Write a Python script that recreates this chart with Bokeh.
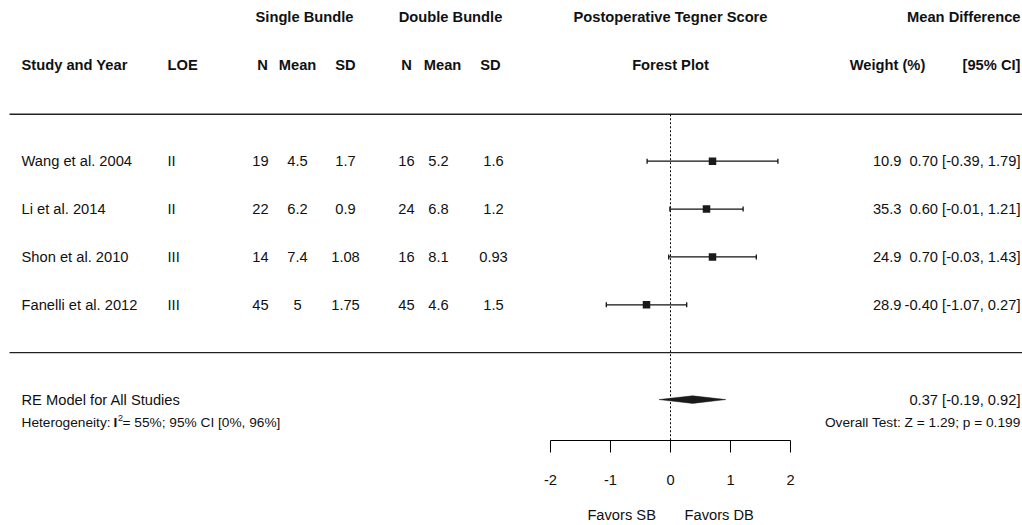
from bokeh.plotting import figure
from bokeh.models import Range1d, LinearAxis, FixedTicker
from bokeh.core.properties import value
from bokeh.embed import file_html
from bokeh.resources import INLINE

# ---------------- data ----------------
studies = ["Wang et al. 2004", "Li et al. 2014", "Shon et al. 2010", "Fanelli et al. 2012"]
loe = ["II", "II", "III", "III"]
sb_n = [19, 22, 14, 45]
sb_mean = [4.5, 6.2, 7.4, 5]
sb_sd = [1.7, 0.9, 1.08, 1.75]
db_n = [16, 24, 16, 45]
db_mean = [5.2, 6.8, 8.1, 4.6]
db_sd = [1.6, 1.2, 0.93, 1.5]
weight = [10.9, 35.3, 24.9, 28.9]
md = [0.70, 0.60, 0.70, -0.40]
ci_lo = [-0.39, -0.01, -0.03, -1.07]
ci_hi = [1.79, 1.21, 1.43, 0.27]
re_est, re_lo, re_hi = 0.37, -0.19, 0.92
i2_text = "= 55%; 95% CI [0%, 96%]"
overall_test = "Overall Test: Z = 1.29; p = 0.199"
favors = ["Favors SB", "Favors DB"]
null_value = 0
axis_ticks = [-2, -1, 0, 1, 2]

# ---------------- layout ----------------
W, H = 1022, 525
FRAME_H = 441
X0_PX, PX_PER_UNIT = 670, 60
ROW0_PX, ROW_PX = 161, 48
FONT = value("Liberation Sans")
FS = "14.7px"
FS_SMALL = "13.7px"
INK = "#111111"
NBSP = "\u00a0"


def X(px):
    return (px - X0_PX) / PX_PER_UNIT


def PY(px):
    return (px - ROW0_PX) / ROW_PX


rows = list(range(len(studies)))

p = figure(width=W, height=H, output_backend="svg", toolbar_location=None,
           x_range=Range1d(X(0), X(W)),
           y_range=Range1d(PY(FRAME_H), PY(0)),
           min_border_left=0, min_border_right=0, min_border_top=0,
           min_border_bottom=H - FRAME_H, x_axis_location=None, y_axis_location=None)
p.outline_line_color = None
p.xgrid.visible = False
p.ygrid.visible = False
p.background_fill_color = "white"
p.border_fill_color = "white"


def txt(xpx, ys, texts, align="left", size=FS, bold=False):
    p.text(x=[X(xpx)] * len(texts), y=ys, text=texts, text_align=align,
           text_baseline="middle", text_font=FONT, text_font_size=size,
           text_font_style="bold" if bold else "normal", text_color=INK)


# headers
txt(304, [PY(17)], ["Single Bundle"], "center", bold=True)
txt(450, [PY(17)], ["Double Bundle"], "center", bold=True)
txt(670, [PY(17)], ["Postoperative Tegner Score"], "center", bold=True)
txt(1020, [PY(17)], ["Mean Difference"], "right", bold=True)
hy = [PY(65)]
txt(21, hy, ["Study and Year"], bold=True)
txt(167, hy, ["LOE"], bold=True)
txt(262, hy, ["N"], "center", bold=True)
txt(297, hy, ["Mean"], "center", bold=True)
txt(345, hy, ["SD"], "center", bold=True)
txt(406, hy, ["N"], "center", bold=True)
txt(442, hy, ["Mean"], "center", bold=True)
txt(490, hy, ["SD"], "center", bold=True)
txt(670, hy, ["Forest Plot"], "center", bold=True)
txt(887, hy, ["Weight (%)"], "center", bold=True)
txt(1020, hy, ["[95% CI]"], "right", bold=True)

# separators
sep_rows = [PY(114), PY(353)]
p.segment(x0=[X(9)] * 2, x1=[X(W)] * 2, y0=sep_rows, y1=sep_rows,
          line_color="#222222", line_width=1.3)

# study rows
fmt = lambda v: f"{v:g}"
txt(21, rows, studies)
txt(167, rows, loe)
txt(260, rows, [fmt(v) for v in sb_n], "center")
txt(297, rows, [fmt(v) for v in sb_mean], "center")
txt(345, rows, [fmt(v) for v in sb_sd], "center")
txt(406, rows, [fmt(v) for v in db_n], "center")
txt(438, rows, [fmt(v) for v in db_mean], "center")
txt(493, rows, [fmt(v) for v in db_sd], "center")
txt(901, rows, [f"{w:.1f}" for w in weight], "right")
txt(1020, rows, [f"{m:.2f} [{l:.2f}, {h:.2f}]" for m, l, h in zip(md, ci_lo, ci_hi)], "right")

# null line
p.segment(x0=[null_value], x1=[null_value], y0=[PY(114)], y1=[PY(FRAME_H)],
          line_color="black", line_width=1, line_dash="2 2")

# CIs
cap = 2.5 / ROW_PX
p.segment(x0=ci_lo, x1=ci_hi, y0=rows, y1=rows, line_color=INK, line_width=1.3)
p.segment(x0=ci_lo, x1=ci_lo, y0=[r - cap for r in rows], y1=[r + cap for r in rows],
          line_color=INK, line_width=1.3)
p.segment(x0=ci_hi, x1=ci_hi, y0=[r - cap for r in rows], y1=[r + cap for r in rows],
          line_color=INK, line_width=1.3)
p.scatter(x=md, y=rows, marker="square", size=7.5, fill_color="#1a1a1a", line_color=None)

# summary
re_row = PY(400)
dh = 3.8 / ROW_PX
p.patch(x=[re_lo, re_est, re_hi, re_est], y=[re_row, re_row - dh, re_row, re_row + dh],
        fill_color="#1a1a1a", line_color="#1a1a1a", line_width=0.5)
txt(21, [re_row], ["RE Model for All Studies"])
txt(1020, [re_row], [f"{re_est:.2f} [{re_lo:.2f}, {re_hi:.2f}]"], "right")

het_row = PY(423)
txt(21, [het_row], ["Heterogeneity:"], size=FS_SMALL)
txt(113, [het_row], ["I"], size=FS_SMALL, bold=True)
txt(117.5, [het_row - 4.5 / ROW_PX], ["2"], size="9px")
txt(122, [het_row], [i2_text], size=FS_SMALL)
txt(1020, [het_row], [overall_test], "right", size=FS_SMALL)

# axis
ax = LinearAxis(ticker=FixedTicker(ticks=axis_ticks), bounds=(axis_ticks[0], axis_ticks[-1]))
ax.major_label_overrides = {t: str(t) for t in axis_ticks}
ax.axis_line_color = "black"
ax.axis_line_width = 1
ax.major_tick_line_color = "black"
ax.major_tick_in = 0
ax.major_tick_out = 12
ax.minor_tick_line_color = None
ax.major_label_standoff = 22
ax.major_label_text_font = "Liberation Sans"
ax.major_label_text_font_size = FS
ax.major_label_text_color = INK
# the axis label is centred on the frame; pad it so the pair sits around the null line
pad = NBSP * 78
ax.axis_label = pad + favors[0] + NBSP * 7 + favors[1]
ax.axis_label_text_font = "Liberation Sans"
ax.axis_label_text_font_size = FS
ax.axis_label_text_font_style = "normal"
ax.axis_label_text_color = INK
ax.axis_label_standoff = 19
p.add_layout(ax, "below")

open("out.html", "w").write(file_html(p, INLINE))
